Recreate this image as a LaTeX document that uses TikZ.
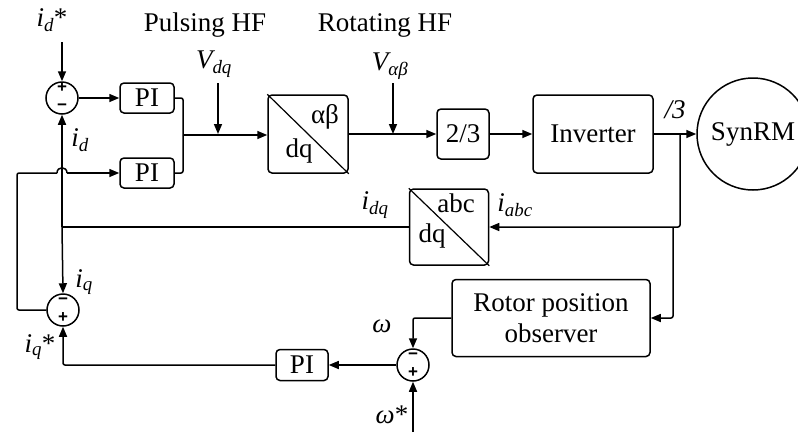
\documentclass[tikz,border=0pt]{standalone}
\usepackage{fontspec}
\setmainfont{Liberation Serif}
\setsansfont{Liberation Sans}
\usetikzlibrary{arrows.meta}
\newcommand\sbs[1]{\textsubscript{\itshape #1}}
\begin{document}
\begin{tikzpicture}[x=1pt,y=-1pt,
  every node/.style={font=\fontsize{27}{31}\selectfont},
  ln/.style={line width=1.5pt, rounded corners=2pt},
  ar/.style={ln, -{Triangle[length=10pt,width=8pt]}},
  blk/.style={draw, line width=1.5pt, rounded corners=4pt, inner sep=0pt, align=center},
  sumc/.style={draw, circle, line width=1.5pt, minimum size=32pt, inner sep=0pt},
  sg/.style={font=\fontsize{17}{17}\sffamily\bfseries, inner sep=0pt, text height=0.6em, text depth=0pt},
  lab/.style={inner sep=0pt}]
\useasboundingbox (0,0) rectangle (798,432);

% blocks
\node[sumc] (s1) at (62,98) {};
\node[sg] (s1p) at (62,89) {+};
\node[sg] (s1m) at (62,107) {−};
\node[blk, minimum width=54pt, minimum height=30pt] (p1) at (147,98) {PI};
\node[blk, minimum width=54pt, minimum height=30pt] (p2) at (147,173) {PI};
\coordinate (mg) at (183,135);
\node[blk, minimum width=80pt, minimum height=78pt] (dq1) at (308,134) {};
\draw[line width=1.2pt] (dq1.north west) -- (dq1.south east);
\node[lab] (dq1a) at (325,117) {αβ};
\node[lab] (dq1b) at (299,151) {dq};
\node[blk, minimum width=52pt, minimum height=50pt] (t23) at (463,134) {2/3};
\node[blk, minimum width=120pt, minimum height=78pt] (inv) at (593,134) {Inverter};
\node[draw, circle, line width=1.5pt, minimum size=112pt, inner sep=0pt] (syn) at (753,134) {SynRM};
\node[blk, minimum width=79pt, minimum height=76pt] (abc) at (449,227) {};
\draw[line width=1.2pt] (abc.north west) -- (abc.south east);
\node[lab] (abca) at (456,203) {abc};
\node[lab] (abcb) at (432,236) {dq};
\node[blk, minimum width=198pt, minimum height=77pt] (rot) at (551,318) {Rotor position\\observer};
\node[sumc] (s3) at (413,365) {};
\node[sg] (s3m) at (413,356) {−};
\node[sg] (s3p) at (413,374) {+};
\node[blk, minimum width=52pt, minimum height=31pt] (p3) at (302,365) {PI};
\node[sumc] (s2) at (63,310) {};
\node[sg] (s2m) at (63,301) {−};
\node[sg] (s2p) at (63,319) {+};

% coordinates
\coordinate (idtop) at (62,42);
\coordinate (vdqtop) at (218,83);
\coordinate (vdqin) at (218,134);
\coordinate (valtop) at (393,83);
\coordinate (valin) at (393,134);
\coordinate (tap1) at (680,134);
\coordinate (tap2) at (673,227);
\coordinate (jn) at (62,227);
\coordinate (wst) at (413,432);

% labels
\node[lab] (lidst) at (52,20) {{\itshape i}\sbs{d}*};
\node[lab] (lid) at (80,140) {{\itshape i}\sbs{d}};
\node[lab] (liq) at (84,282) {{\itshape i}\sbs{q}};
\node[lab] (liqst) at (40,347) {{\itshape i}\sbs{q}*};
\node[lab] (lph) at (205,25) {Pulsing HF};
\node[lab] (lrh) at (385,25) {Rotating HF};
\node[lab] (lvdq) at (214,64) {{\itshape V}\sbs{dq}};
\node[lab] (lval) at (390,66) {{\itshape V}\sbs{αβ}};
\node[lab] (l3) at (675,110) {\itshape /3};
\node[lab] (lidq) at (375,205) {{\itshape i}\sbs{dq}};
\node[lab] (liabc) at (515,205) {{\itshape i}\sbs{abc}};
\node[lab] (lw) at (382,326) {\itshape ω};
\node[lab] (lwst) at (392,415) {{\itshape ω}*};

% connectors
\draw[ar] (idtop) -- (s1.north);
\draw[ar] (s1.east) -- (p1.west);
\draw[ln] (p1.east) -| (mg);
\draw[ln] (p2.east) -| (mg);
\draw[ar] (mg) -- (mg -| dq1.west);
\draw[ar] (vdqtop) -- (vdqin);
\draw[ar] (dq1.east) -- (t23.west);
\draw[ar] (valtop) -- (valin);
\draw[ar] (t23.east) -- (inv.west);
\draw[ar] (inv.east) -- (syn.west);
\draw[ar] (tap1) |- (abc.east);
\draw[ar] (tap2) |- (rot.east);
\draw[ln] (abc.west) -- (jn);
\draw[ar] (jn) -- (s1.south);
\draw[ar] (jn) -- (s2.north);
\draw[ar] (rot.west) -| (s3.north);
\draw[ar] (s3.west) -- (p3.east);
\draw[ar] (p3.west) -| (s2.south);
\draw[ar] (wst) -- (s3.south);
\draw[ln] (s2.west) -- (17,310) -- (17,173) -- (57,173);
\draw[line width=1.5pt] (57,173) .. controls (57,166) and (67,166) .. (67,173);
\draw[ar] (67,173) -- (p2.west);
\end{tikzpicture}
\end{document}
